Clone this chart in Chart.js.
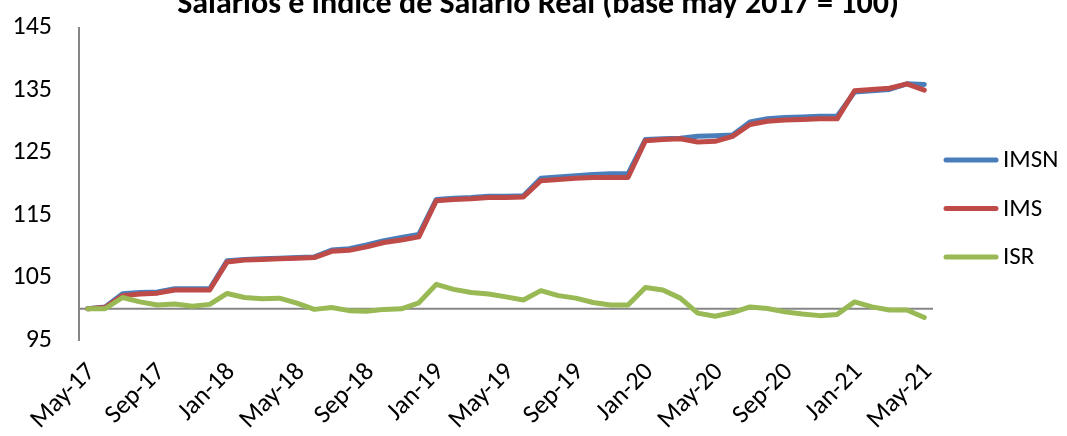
<!DOCTYPE html>
<html>
<head>
<meta charset="utf-8">
<script src="https://cdn.jsdelivr.net/npm/chart.js@4.4.1/dist/chart.umd.min.js"></script>
<style>
html,body{margin:0;padding:0;background:#fff;overflow:hidden;}
#wrap{width:1067px;height:436px;position:relative;overflow:hidden;}
#c{position:absolute;left:0;top:-15px;}
</style>
</head>
<body>
<div id="wrap"><canvas id="c" width="1067" height="451"></canvas></div>
<script>
const months = ["May-17","Jun-17","Jul-17","Aug-17","Sep-17","Oct-17","Nov-17","Dec-17",
"Jan-18","Feb-18","Mar-18","Apr-18","May-18","Jun-18","Jul-18","Aug-18","Sep-18","Oct-18","Nov-18","Dec-18",
"Jan-19","Feb-19","Mar-19","Apr-19","May-19","Jun-19","Jul-19","Aug-19","Sep-19","Oct-19","Nov-19","Dec-19",
"Jan-20","Feb-20","Mar-20","Apr-20","May-20","Jun-20","Jul-20","Aug-20","Sep-20","Oct-20","Nov-20","Dec-20",
"Jan-21","Feb-21","Mar-21","Apr-21","May-21"];

const imsn = [100,100.3,102.4,102.6,102.7,103.2,103.2,103.2,
107.7,107.9,108.0,108.1,108.2,108.3,109.4,109.6,110.2,110.9,111.4,111.9,
117.5,117.7,117.8,118.0,118.0,118.1,120.9,121.1,121.3,121.5,121.6,121.6,
127.1,127.2,127.3,127.6,127.7,127.8,129.9,130.4,130.6,130.7,130.8,130.8,
134.7,134.9,135.1,136.0,135.9];

const ims = [100,100.2,102.1,102.35,102.5,103.0,103.0,103.0,
107.5,107.8,107.9,108.0,108.1,108.2,109.2,109.35,109.9,110.6,111.0,111.5,
117.3,117.5,117.6,117.8,117.8,117.9,120.5,120.7,120.9,121.0,121.0,121.0,
126.9,127.1,127.2,126.7,126.8,127.6,129.5,130.0,130.2,130.3,130.4,130.4,
134.9,135.1,135.3,136.0,135.0];

const isr = [100,100.0,101.8,101.1,100.6,100.75,100.4,100.7,
102.45,101.8,101.6,101.7,100.9,99.9,100.2,99.7,99.6,99.9,100.0,100.95,
103.9,103.1,102.6,102.35,101.9,101.4,102.9,102.1,101.7,101.0,100.6,100.6,
103.4,103.0,101.7,99.3,98.8,99.4,100.3,100.05,99.5,99.15,98.9,99.1,
101.1,100.3,99.8,99.8,98.6];

const yTicks = [95,105,115,125,135,145];
const baseValue = 100;
const titleText = "Salarios e Índice de Salario Real (base may 2017 = 100)";

const FONT = "Carlito, 'Liberation Sans Narrow', 'Liberation Sans', sans-serif";

const baseLine = {
  id: 'baseLine',
  beforeDatasetsDraw(chart) {
    const {ctx, chartArea} = chart;
    const y = chart.scales.y.getPixelForValue(baseValue);
    ctx.save();
    ctx.strokeStyle = '#868686';
    ctx.lineWidth = 2;
    ctx.beginPath();
    ctx.moveTo(chartArea.left, y);
    ctx.lineTo(chartArea.right, y);
    ctx.stroke();
    ctx.restore();
  }
};

// center the title over the whole figure, not only the plot area
const titleCenter = {
  id: 'titleCenter',
  afterLayout(chart) {
    const t = chart.titleBlock;
    if (t) { t.left = 9; t.right = chart.width; t.width = t.right - t.left; }
  }
};

const customLegend = {
  id: 'customLegend',
  afterDraw(chart) {
    const {ctx, chartArea} = chart;
    const x0 = chartArea.right + 13;
    const yStart = 175, step = 48.5;
    ctx.save();
    chart.data.datasets.forEach((d, i) => {
      const y = yStart + i * step;
      ctx.strokeStyle = d.borderColor;
      ctx.lineWidth = 5;
      ctx.lineCap = 'round';
      ctx.beginPath();
      ctx.moveTo(x0, y);
      ctx.lineTo(x0 + 50, y);
      ctx.stroke();
      ctx.fillStyle = '#000';
      ctx.font = '25px ' + FONT;
      ctx.textBaseline = 'middle';
      ctx.textAlign = 'left';
      ctx.fillText(d.label, x0 + 57, y + 1);
    });
    ctx.restore();
  }
};

const ds = (label, data, color, order) => ({
  label, data, order,
  borderColor: color, backgroundColor: color,
  borderWidth: 5, pointRadius: 0, tension: 0,
  borderCapStyle: 'round', borderJoinStyle: 'round', fill: false
});

const chart = new Chart(document.getElementById('c'), {
  type: 'line',
  data: {
    labels: months,
    datasets: [
      ds('IMSN', imsn, '#4A7EBB', 3),
      ds('IMS', ims, '#BE4B48', 2),
      ds('ISR', isr, '#98B954', 1)
    ]
  },
  options: {
    responsive: false,
    animation: false,
    layout: {padding: {left: 0, right: 134, top: 0, bottom: 4}},
    plugins: {
      title: {
        display: true, text: titleText, color: '#000',
        font: {family: FONT, size: 32, weight: 'bold', lineHeight: 1},
        padding: {top: 0, bottom: 6.4}
      },
      legend: {display: false},
      tooltip: {enabled: false}
    },
    scales: {
      x: {
        offset: true,
        grid: {display: false, drawTicks: false},
        border: {display: false},
        afterFit: (s) => { s.paddingLeft = 0; s.paddingRight = 0; s.height = 92; },
        ticks: {
          autoSkip: false, maxRotation: 45, minRotation: 45,
          color: '#000', font: {family: FONT, size: 26}, padding: 17, labelOffset: 4,
          callback: function(v, i) { return i % 4 === 0 ? months[i] : ''; }
        }
      },
      y: {
        min: 95, max: 145,
        afterBuildTicks: (s) => { s.ticks = yTicks.map(v => ({value: v})); },
        afterFit: (s) => { s.width = 79; },
        grid: {display: false, drawTicks: false},
        border: {display: true, color: '#868686', width: 2},
        ticks: {color: '#000', font: {family: FONT, size: 26}, padding: 27}
      }
    }
  },
  plugins: [baseLine, titleCenter, customLegend]
});
</script>
</body>
</html>
